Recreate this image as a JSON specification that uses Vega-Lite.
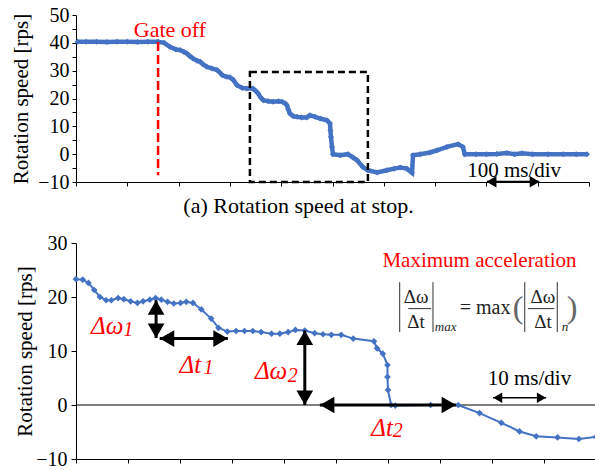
{
  "$schema": "https://vega.github.io/schema/vega-lite/v6.json",
  "background": "white",
  "padding": {"left": 10, "top": 5, "right": 0, "bottom": 0},
  "columns": 1,
  "align": "none",
  "spacing": 16,
  "datasets": {
    "top": [
      {"t":3,"v":40.4},{"t":20,"v":40.4},{"t":40,"v":40.4},{"t":60,"v":40.3},{"t":80,"v":40.4},{"t":100,"v":40.4},{"t":120,"v":40.3},{"t":140,"v":40.4},{"t":160,"v":40.4},
      {"t":172,"v":40.0},{"t":183,"v":38.6},{"t":195,"v":37.6},{"t":203,"v":37.4},{"t":210,"v":36.8},{"t":216,"v":36.2},{"t":222,"v":35.2},{"t":228,"v":34.4},{"t":236,"v":33.6},{"t":242,"v":33.2},{"t":248,"v":32.2},{"t":255,"v":31.4},{"t":265,"v":30.8},{"t":275,"v":30.2},{"t":280,"v":29.4},{"t":285,"v":28.4},{"t":293,"v":27.8},{"t":300,"v":27.6},{"t":306,"v":26.8},{"t":314,"v":24.8},{"t":324,"v":23.8},{"t":333,"v":23.6},{"t":345,"v":23.6},{"t":350,"v":22.8},{"t":355,"v":21.8},{"t":360,"v":20.4},{"t":365,"v":19.4},{"t":375,"v":19.0},{"t":384,"v":18.8},{"t":395,"v":19.0},{"t":402,"v":18.8},{"t":408,"v":18.2},{"t":411,"v":17.6},{"t":414,"v":16.0},{"t":417,"v":14.6},{"t":424,"v":13.6},{"t":431,"v":13.4},{"t":440,"v":13.2},{"t":450,"v":13.2},{"t":456,"v":14.0},{"t":466,"v":13.4},{"t":476,"v":12.8},{"t":489,"v":12.2},{"t":495,"v":11.0},{"t":496,"v":8.5},{"t":497,"v":6.2},{"t":499,"v":2.6},{"t":501,"v":0},{"t":515,"v":-0.4},{"t":530,"v":0},{"t":540,"v":-1.2},{"t":548,"v":-2.2},{"t":559,"v":-4.6},{"t":569,"v":-5.8},{"t":587,"v":-6.6},{"t":606,"v":-5.8},{"t":620,"v":-5.2},{"t":632,"v":-4.8},{"t":645,"v":-5.2},{"t":655,"v":-6.7},{"t":657,"v":-0.4},{"t":671,"v":0},{"t":690,"v":0.6},{"t":704,"v":1.4},{"t":723,"v":2.6},{"t":745,"v":3.6},{"t":754,"v":2.6},{"t":758,"v":0},{"t":780,"v":0},{"t":800,"v":0},{"t":820,"v":0.1},{"t":840,"v":0.4},{"t":855,"v":0},{"t":869,"v":0.3},{"t":890,"v":0},{"t":920,"v":0},{"t":950,"v":0},{"t":975,"v":0},{"t":996,"v":0}
    ],
    "bottom": [
      {"t":0,"v":23.3},{"t":1.3,"v":23.2},{"t":2.4,"v":22.6},{"t":3.5,"v":21.3},{"t":4.6,"v":20.0},{"t":5.8,"v":19.4},{"t":6.8,"v":19.4},{"t":8.1,"v":19.8},{"t":9.2,"v":19.6},{"t":10.5,"v":19.2},{"t":11.8,"v":18.9},{"t":12.9,"v":19.2},{"t":14.2,"v":19.5},{"t":15.3,"v":19.8},{"t":16.4,"v":19.5},{"t":17.6,"v":19.1},{"t":18.8,"v":18.8},{"t":20.1,"v":18.9},{"t":21.2,"v":19.1},{"t":22.5,"v":18.9},{"t":24.1,"v":17.7},{"t":26.0,"v":16.0},{"t":27.4,"v":14.3},{"t":29.1,"v":13.6},{"t":30.8,"v":13.7},{"t":32.4,"v":13.7},{"t":34.0,"v":13.7},{"t":35.6,"v":13.5},{"t":37.6,"v":13.2},{"t":39.2,"v":13.2},{"t":40.8,"v":13.5},{"t":42.2,"v":13.9},{"t":44.0,"v":13.8},{"t":45.9,"v":13.3},{"t":47.5,"v":13.1},{"t":49.1,"v":13.0},{"t":51.0,"v":13.0},{"t":53.3,"v":12.3},{"t":57.3,"v":11.8},{"t":57.9,"v":10.5},{"t":59.0,"v":9.5},{"t":59.9,"v":7.4},{"t":59.9,"v":5.2},{"t":60.0,"v":2.8},{"t":60.6,"v":0},{"t":61.4,"v":-0.1},{"t":68.2,"v":0},{"t":73.5,"v":0},{"t":77.6,"v":-1.5},{"t":81.8,"v":-3.3},{"t":85.3,"v":-4.9},{"t":88.5,"v":-5.8},{"t":92.6,"v":-6.0},{"t":96.7,"v":-6.3},{"t":100,"v":-5.9}
    ]
  },
  "concat": [
    {
      "width": 513,
      "height": 167,
      "resolve": {"axis": {"y": "independent"}},
      "layer": [
        {
          "data": {"name": "top"},
          "mark": {"type": "line", "color": "#4472C4", "strokeWidth": 4.5, "point": {"shape": "diamond", "size": 36, "filled": true, "color": "#4472C4"}},
          "encoding": {
            "x": {"field": "t", "type": "quantitative", "scale": {"domain": [0, 1000], "nice": false},
                  "axis": {"values": [0,100,200,300,400,500,600,700,800,900,1000], "labels": false, "tickSize": 4, "title": "(a) Rotation speed at stop.", "titleFontSize": 22, "titlePadding": 9, "titleX": 222}},
            "y": {"field": "v", "type": "quantitative", "scale": {"domain": [-10, 50], "nice": false, "zero": false},
                  "axis": {"orient": "left", "values": [-10,0,10,20,30,40,50], "labelOverlap": false, "labelFontSize": 20, "labelPadding": 3, "tickSize": 4, "title": "Rotation speed [rps]", "titleFontSize": 21, "titlePadding": 6}}
          }
        },
        {
          "data": {"values": [{"t": 160, "v": 40.3, "v2": -7.6}]},
          "mark": {"type": "rule", "color": "#FF0000", "strokeWidth": 2.5, "strokeDash": [9, 4]},
          "encoding": {"x": {"field": "t", "type": "quantitative"},
                       "y": {"field": "v", "type": "quantitative", "axis": {"orient": "left", "values": [-5,5,15,25,35,45], "labels": false, "title": null, "domain": false, "tickSize": 4}},
                       "y2": {"field": "v2"}}
        },
        {
          "data": {"values": [{"t": 339, "t2": 569, "v": 29.5, "v2": -10}]},
          "mark": {"type": "rect", "fillOpacity": 0, "stroke": "black", "strokeWidth": 2.5, "strokeDash": [7, 4]},
          "encoding": {"x": {"field": "t", "type": "quantitative"}, "x2": {"field": "t2"}, "y": {"field": "v", "type": "quantitative", "axis": null}, "y2": {"field": "v2"}}
        },
        {
          "data": {"values": [{"t": 183, "v": 42.2, "label": "Gate off"}]},
          "mark": {"type": "text", "font": "Liberation Serif", "color": "#FF0000", "fontSize": 22, "align": "center", "baseline": "alphabetic"},
          "encoding": {"x": {"field": "t", "type": "quantitative"}, "y": {"field": "v", "type": "quantitative", "axis": null}, "text": {"field": "label"}}
        },
        {
          "data": {"values": [{"t": 854, "v": -8.2, "label": "100 ms/div"}]},
          "mark": {"type": "text", "font": "Liberation Serif", "color": "black", "fontSize": 21, "align": "center", "baseline": "alphabetic"},
          "encoding": {"x": {"field": "t", "type": "quantitative"}, "y": {"field": "v", "type": "quantitative", "axis": null}, "text": {"field": "label"}}
        },
        {
          "data": {"values": [{"t": 801, "t2": 903, "v": -9.9, "v2": -9.9}]},
          "mark": {"type": "rule", "color": "black", "strokeWidth": 2},
          "encoding": {"x": {"field": "t", "type": "quantitative"}, "x2": {"field": "t2"}, "y": {"field": "v", "type": "quantitative", "axis": null}, "y2": {"field": "v2"}}
        },
        {
          "data": {"values": [{"t": 810, "v": -9.9, "dir": "left"}, {"t": 894, "v": -9.9, "dir": "right"}]},
          "mark": {"type": "point", "filled": true, "color": "black", "opacity": 1, "size": 130},
          "encoding": {"x": {"field": "t", "type": "quantitative"}, "y": {"field": "v", "type": "quantitative", "axis": null},
                       "shape": {"field": "dir", "type": "nominal", "legend": null, "scale": {"domain": ["up","down","left","right"], "range": ["triangle-up","triangle-down","triangle-left","triangle-right"]}}}
        }
      ]
    },
    {
      "width": 520,
      "height": 216,
      "layer": [
        {
          "data": {"values": [{"v": 0}]},
          "mark": {"type": "rule", "color": "black", "strokeWidth": 1},
          "encoding": {"y": {"field": "v", "type": "quantitative"}}
        },
        {
          "data": {"name": "bottom"},
          "mark": {"type": "line", "color": "#4472C4", "strokeWidth": 2, "point": {"shape": "diamond", "size": 45, "filled": true, "color": "#4472C4"}},
          "encoding": {
            "x": {"field": "t", "type": "quantitative", "scale": {"domain": [0, 100], "nice": false},
                  "axis": {"values": [0,10,20,30,40,50,60,70,80,90,100], "labels": false, "tickSize": 4, "title": null}},
            "y": {"field": "v", "type": "quantitative", "scale": {"domain": [-10, 30], "nice": false, "zero": false},
                  "axis": {"values": [-10,-5,0,5,10,15,20,25,30], "labelExpr": "datum.value % 10 === 0 ? datum.label : ''", "labelOverlap": false, "labelSeparation": 0, "labelFontSize": 20, "labelPadding": 4, "tickSize": 5, "title": "Rotation speed [rps]", "titleFontSize": 21, "titlePadding": 0}}
          }
        },
        {
          "data": {"values": [{"t": 15.4, "v": 19.4, "t2": 15.4, "v2": 12.4}, {"t": 16.1, "v": 12.3, "t2": 29.2, "v2": 12.3}, {"t": 44.0, "v": 13.8, "t2": 44.0, "v2": 0}, {"t": 46.9, "v": 0, "t2": 73.1, "v2": 0}]},
          "mark": {"type": "rule", "color": "black", "strokeWidth": 3},
          "encoding": {"x": {"field": "t", "type": "quantitative"}, "x2": {"field": "t2"}, "y": {"field": "v", "type": "quantitative"}, "y2": {"field": "v2"}}
        },
        {
          "data": {"values": [{"t": 15.4, "v": 18.05, "dir": "up"}, {"t": 15.4, "v": 13.75, "dir": "down"}, {"t": 17.5, "v": 12.3, "dir": "left"}, {"t": 27.8, "v": 12.3, "dir": "right"}, {"t": 44.0, "v": 12.45, "dir": "up"}, {"t": 44.0, "v": 1.35, "dir": "down"}, {"t": 48.3, "v": 0, "dir": "left"}, {"t": 71.7, "v": 0, "dir": "right"}]},
          "mark": {"type": "point", "filled": true, "color": "black", "opacity": 1, "size": 280},
          "encoding": {"x": {"field": "t", "type": "quantitative"}, "y": {"field": "v", "type": "quantitative"},
                       "shape": {"field": "dir", "type": "nominal", "legend": null, "scale": {"domain": ["up","down","left","right"], "range": ["triangle-up","triangle-down","triangle-left","triangle-right"]}}}
        },
        {
          "data": {"values": [{"t": 80.2, "v": 1.35, "t2": 90.4, "v2": 1.35}]},
          "mark": {"type": "rule", "color": "black", "strokeWidth": 1.5},
          "encoding": {"x": {"field": "t", "type": "quantitative"}, "x2": {"field": "t2"}, "y": {"field": "v", "type": "quantitative"}, "y2": {"field": "v2"}}
        },
        {
          "data": {"values": [{"t": 81.1, "v": 1.35, "dir": "left"}, {"t": 89.5, "v": 1.35, "dir": "right"}]},
          "mark": {"type": "point", "filled": true, "color": "black", "opacity": 1, "size": 110},
          "encoding": {"x": {"field": "t", "type": "quantitative"}, "y": {"field": "v", "type": "quantitative"},
                       "shape": {"field": "dir", "type": "nominal", "legend": null}}
        },
        {
          "data": {"values": [{"t": 2.9, "v": 13.2, "label": "Δω"}, {"t": 19.9, "v": 5.96, "label": "Δt"}, {"t": 34.4, "v": 4.74, "label": "Δω"}, {"t": 56.8, "v": -5.72, "label": "Δt"}]},
          "mark": {"type": "text", "font": "Liberation Serif", "color": "#FF0000", "fontSize": 25, "fontStyle": "italic", "align": "left", "baseline": "alphabetic"},
          "encoding": {"x": {"field": "t", "type": "quantitative"}, "y": {"field": "v", "type": "quantitative"}, "text": {"field": "label"}}
        },
        {
          "data": {"values": [{"t": 9.1, "v": 12.7, "label": "1"}, {"t": 24.5, "v": 5.7, "label": "1"}, {"t": 40.7, "v": 4.3, "label": "2"}, {"t": 60.9, "v": -5.9, "label": "2"}]},
          "mark": {"type": "text", "font": "Liberation Serif", "color": "#FF0000", "fontSize": 20, "fontStyle": "italic", "align": "left", "baseline": "alphabetic"},
          "encoding": {"x": {"field": "t", "type": "quantitative"}, "y": {"field": "v", "type": "quantitative"}, "text": {"field": "label"}}
        },
        {
          "data": {"values": [{"t": 77.6, "v": 25.5, "label": "Maximum acceleration"}]},
          "mark": {"type": "text", "font": "Liberation Serif", "color": "#FF0000", "fontSize": 21, "align": "center", "baseline": "alphabetic"},
          "encoding": {"x": {"field": "t", "type": "quantitative"}, "y": {"field": "v", "type": "quantitative"}, "text": {"field": "label"}}
        },
        {
          "data": {"values": [{"t": 87.2, "v": 3.7, "label": "10 ms/div"}]},
          "mark": {"type": "text", "font": "Liberation Serif", "color": "black", "fontSize": 21, "align": "center", "baseline": "alphabetic"},
          "encoding": {"x": {"field": "t", "type": "quantitative"}, "y": {"field": "v", "type": "quantitative"}, "text": {"field": "label"}}
        },
        {
          "data": {"values": [{"t": 62.25, "v": 22.75, "t2": 62.25, "v2": 13.5}, {"t": 68.65, "v": 22.75, "t2": 68.65, "v2": 13.5}, {"t": 86.3, "v": 22.75, "t2": 86.3, "v2": 13.5}, {"t": 92.55, "v": 22.75, "t2": 92.55, "v2": 13.5}, {"t": 63.9, "v": 17.85, "t2": 68.3, "v2": 17.85}, {"t": 86.9, "v": 17.85, "t2": 92.0, "v2": 17.85}]},
          "mark": {"type": "rule", "color": "#333333", "strokeWidth": 1},
          "encoding": {"x": {"field": "t", "type": "quantitative"}, "x2": {"field": "t2"}, "y": {"field": "v", "type": "quantitative"}, "y2": {"field": "v2"}}
        },
        {
          "data": {"values": [{"t": 65.4, "v": 18.8, "label": "Δω"}, {"t": 89.8, "v": 18.8, "label": "Δω"}, {"t": 65.4, "v": 14.3, "label": "Δt"}, {"t": 89.8, "v": 14.3, "label": "Δt"}]},
          "mark": {"type": "text", "font": "Liberation Serif", "color": "#222222", "fontSize": 19, "align": "center", "baseline": "alphabetic"},
          "encoding": {"x": {"field": "t", "type": "quantitative"}, "y": {"field": "v", "type": "quantitative"}, "text": {"field": "label"}}
        },
        {
          "data": {"values": [{"t": 73.8, "v": 16.9, "label": "= max"}]},
          "mark": {"type": "text", "font": "Liberation Serif", "color": "#222222", "fontSize": 20, "align": "left", "baseline": "alphabetic"},
          "encoding": {"x": {"field": "t", "type": "quantitative"}, "y": {"field": "v", "type": "quantitative"}, "text": {"field": "label"}}
        },
        {
          "data": {"values": [{"t": 85.0, "v": 17.9, "label": "("}, {"t": 95.4, "v": 17.9, "label": ")"}]},
          "mark": {"type": "text", "font": "Liberation Serif", "color": "#666666", "fontSize": 32, "align": "center", "baseline": "middle"},
          "encoding": {"x": {"field": "t", "type": "quantitative"}, "y": {"field": "v", "type": "quantitative"}, "text": {"field": "label"}}
        },
        {
          "data": {"values": [{"t": 69.0, "v": 13.65, "label": "max"}, {"t": 93.4, "v": 13.65, "label": "n"}]},
          "mark": {"type": "text", "font": "Liberation Serif", "color": "#222222", "fontSize": 13, "fontStyle": "italic", "align": "left", "baseline": "alphabetic"},
          "encoding": {"x": {"field": "t", "type": "quantitative"}, "y": {"field": "v", "type": "quantitative"}, "text": {"field": "label"}}
        }
      ]
    }
  ],
  "config": {
    "font": "Liberation Serif",
    "view": {"stroke": null},
    "axis": {"domainColor": "black", "tickColor": "black", "labelColor": "black", "titleColor": "black", "titleFontWeight": "normal", "grid": false, "labelFont": "Liberation Serif", "titleFont": "Liberation Serif"},
    "text": {"font": "Liberation Serif"}
  }
}
